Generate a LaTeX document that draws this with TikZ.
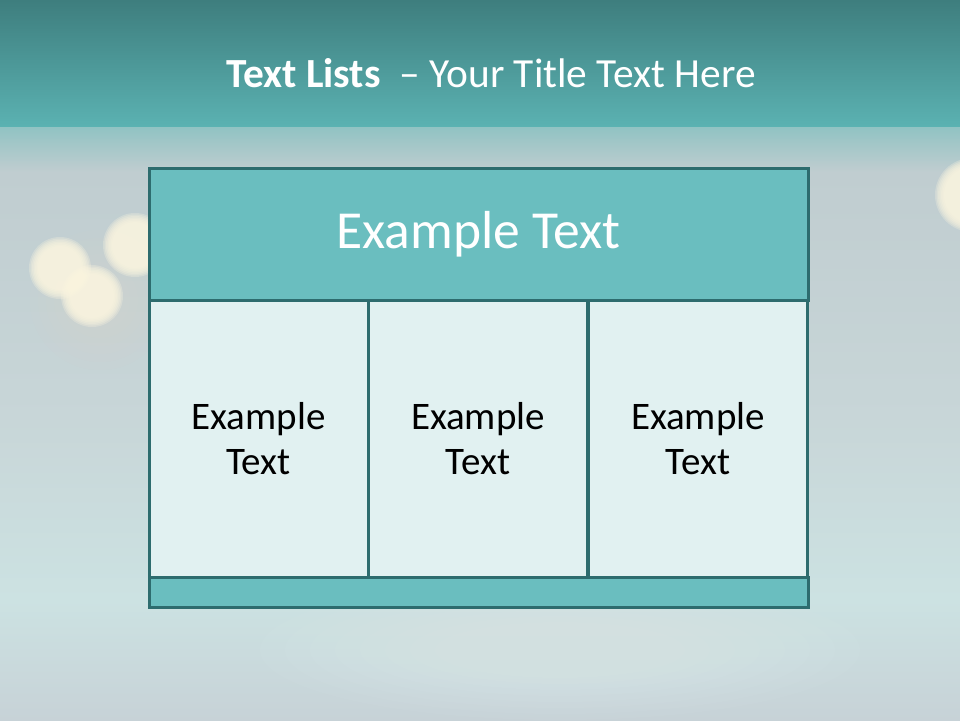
\documentclass[tikz,border=0pt]{standalone}
\usepackage{fontspec}
\setmainfont{Carlito}
\usetikzlibrary{positioning}

\definecolor{bandtop}{RGB}{62,126,126}
\definecolor{bandlow}{RGB}{91,178,178}
\definecolor{mistA}{RGB}{145,195,195}
\definecolor{mistB}{RGB}{192,205,208}
\definecolor{mistC}{RGB}{200,214,216}
\definecolor{mistD}{RGB}{204,226,226}
\definecolor{mistE}{RGB}{199,210,215}
\definecolor{bokeh}{RGB}{252,246,224}
\definecolor{glow}{RGB}{228,210,208}
\definecolor{tblline}{RGB}{45,108,110}
\definecolor{tblhead}{RGB}{106,190,191}
\definecolor{tblbody}{RGB}{225,241,241}

\tikzset{
  hdrcell/.style={draw=tblline,fill=tblhead,line width=3pt,inner sep=0pt,outer sep=0pt,
    minimum width=659pt,minimum height=132pt,text=white,font=\fontsize{53.5}{60}\selectfont},
  bodycell/.style={draw=tblline,fill=tblbody,line width=3pt,inner sep=0pt,outer sep=0pt,
    minimum width=219pt,minimum height=277pt,align=center,text=black,font=\fontsize{39}{45}\selectfont},
  footbar/.style={draw=tblline,fill=tblhead,line width=3pt,inner sep=0pt,outer sep=0pt,
    minimum width=659pt,minimum height=30pt},
  titletext/.style={inner sep=0pt,outer sep=0pt,anchor=base,text=white,font=\fontsize{41.4}{48}\selectfont},
}

\begin{document}
\begin{tikzpicture}[x=1pt,y=-1pt]
\path[use as bounding box] (0,0) rectangle (960,720);
% background
\shade[top color=bandtop,bottom color=bandlow] (0,0) rectangle (960,127);
\shade[top color=mistA,bottom color=mistB] (0,127) rectangle (960,172);
\shade[top color=mistB,bottom color=mistC] (0,172) rectangle (960,420);
\shade[top color=mistC,bottom color=mistD] (0,420) rectangle (960,600);
\shade[top color=mistD,bottom color=mistE] (0,600) rectangle (960,720);
\foreach \k in {0,...,7}
  \fill[white,opacity=.03] (560,650) ellipse ({300-25*\k} and {70-6*\k});
\foreach \k in {0,...,5}
  \fill[glow,opacity=.05] (100,300) circle ({70-8*\k});
% bokeh lights
\foreach \cx/\cy/\r in {135/245/29,60/268/28,92/296/28,972/195/34}{
  \foreach \k in {0,...,6}
    \fill[bokeh,opacity=.27] (\cx,\cy) circle ({\r+3-1.5*\k});
}
% title
\node[titletext] (title) at (491,87) {\textbf{Text Lists}\ \ – Your Title Text Here};
% table
\node[hdrcell] (head) at (478.5,234) {Example Text};
\node[bodycell] (cellA) at (258.5,438.5) {Example\\Text};
\node[bodycell] (cellB) at (478,438.5) {Example\\Text};
\node[bodycell] (cellC) at (698,438.5) {Example\\Text};
\node[footbar] (foot) at (478.5,592) {};
\end{tikzpicture}
\end{document}
